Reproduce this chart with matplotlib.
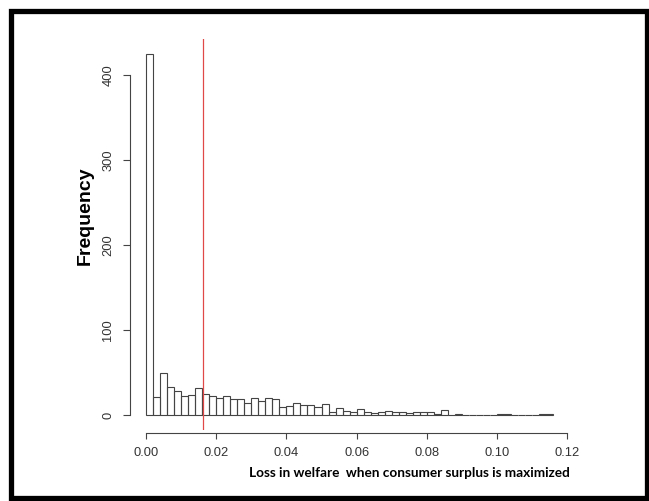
import numpy as np
import matplotlib
matplotlib.use("Agg")
import matplotlib.pyplot as plt
from matplotlib.patches import Rectangle

# histogram data (bin width 0.002, first bin starts at 0)
bin_width = 0.002
counts = [425, 21, 49, 33, 28, 22, 24, 32, 25, 22,
          20, 22, 19, 19, 14, 20, 16, 20, 19, 9,
          11, 14, 12, 12, 9, 13, 3, 8, 5, 3,
          7, 3, 2, 4, 5, 4, 4, 2, 3, 3,
          4, 1, 6, 0, 1, 0, 0, 0, 0, 0,
          1, 1, 0, 0, 0, 0, 1, 1]
cutoff = 0.0163  # red reference line

xticks = [0.00, 0.02, 0.04, 0.06, 0.08, 0.10, 0.12]
yticks = [0, 100, 200, 300, 400]
xlabel = "Loss in welfare  when consumer surplus is maximized"
ylabel = "Frequency"

W, H = 649, 501
fig = plt.figure(figsize=(W / 100, H / 100), dpi=100)

# axes placed like R's plot region
left, right, top, bottom = 129.7, 569.5, 39.3, 429.5
ax = fig.add_axes([left / W, 1 - bottom / H, (right - left) / W, (bottom - top) / H])

edges = np.arange(len(counts)) * bin_width
ax.bar(edges, counts, width=bin_width, align="edge", fill=False,
       edgecolor="#444444", linewidth=0.8)
ax.axvline(cutoff, color="#e04848", linewidth=0.9)

xmax = len(counts) * bin_width
ax.set_xlim(-0.04 * xmax, 1.04 * xmax)
ax.set_ylim(-0.04 * max(counts), 1.04 * max(counts))

for s in ["top", "right"]:
    ax.spines[s].set_visible(False)
ax.spines["left"].set_bounds(0, 400)
ax.spines["bottom"].set_bounds(0, 0.12)
ax.spines["bottom"].set_position(("outward", 2.3))
for s in ["left", "bottom"]:
    ax.spines[s].set_color("#444444")
    ax.spines[s].set_linewidth(0.8)

ax.set_xticks(xticks)
ax.set_xticklabels([f"{v:.2f}" for v in xticks], fontsize=9.3,
                   family="Liberation Sans", color="#333333")
ax.set_yticks(yticks)
ax.set_yticklabels([str(v) for v in yticks], fontsize=9.3, rotation=90,
                   va="center", family="Liberation Sans", color="#333333")
ax.tick_params(axis="x", length=4.5, width=0.8, color="#444444", pad=6)
ax.tick_params(axis="y", length=5, width=0.8, color="#444444", pad=6)

fig.text(85 / W, 1 - 216 / H, ylabel, rotation=90, ha="center", va="center",
         fontsize=14, fontweight="bold", family="Liberation Sans")
fig.text(409 / W, 1 - 473 / H, xlabel, ha="center", va="center",
         fontsize=9.8, fontweight="bold", family="Lato")

# thick black frame round the picture
fig.patches.append(Rectangle((10.5 / W, 1 - 498 / H), 636 / W, 487.5 / H,
                             transform=fig.transFigure, fill=False,
                             edgecolor="black", linewidth=3.8))

fig.savefig("out.png", dpi=100)
